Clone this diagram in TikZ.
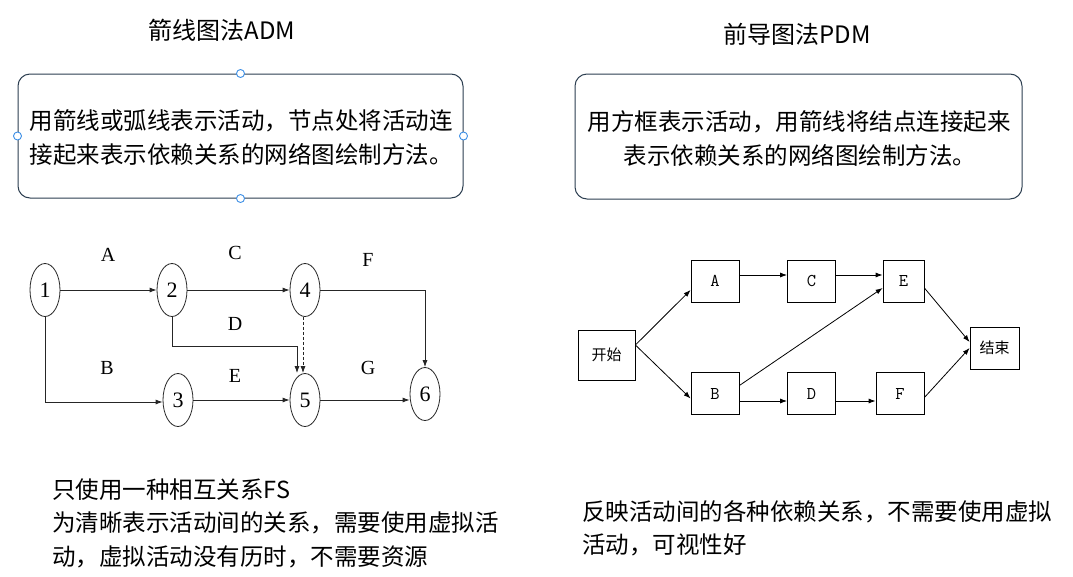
\documentclass[tikz,border=0pt]{standalone}
\usepackage{fontspec}
\newfontfamily\cjk{Noto Sans CJK SC}
\newfontfamily\tms{Liberation Serif}
\usetikzlibrary{shapes.geometric,arrows.meta,calc}
\definecolor{boxline}{HTML}{2C3E50}
\definecolor{handleblue}{HTML}{3D8FE6}
\begin{document}
\begin{tikzpicture}[x=1pt,y=-1pt,
  title/.style={font=\cjk\fontsize{24}{28}\selectfont, inner sep=0pt},
  body/.style={font=\cjk\fontsize{23.5}{28}\selectfont, inner sep=0pt},
  descbox/.style={draw=boxline, line width=1pt, rounded corners=12pt, inner sep=0pt},
  handle/.style={circle, draw=handleblue, fill=white, minimum size=8pt, inner sep=0pt, line width=0.9pt},
  ev/.style={ellipse, draw=black!85, line width=0.8pt, minimum width=30pt, minimum height=53pt, inner sep=0pt, font=\tms\fontsize{22}{26}\selectfont},
  lab/.style={font=\tms\fontsize{20}{24}\selectfont, inner sep=0pt},
  act/.style={rectangle, draw=black, line width=0.8pt, minimum width=48pt, minimum height=42pt, inner sep=0pt, font=\ttfamily\fontsize{18}{20}\selectfont},
  adm/.style={draw=black!85, line width=0.8pt, -{Latex[length=7pt,width=5pt]}},
  pdm/.style={draw=black, line width=0.8pt, -{Latex[length=7pt,width=5pt]}}
]
\useasboundingbox (0,0) rectangle (1073,576);
\fill[white] (0,0) rectangle (1073,576);

% titles
\node[title] (t1) at (222,30) {箭线图法ADM};
\node[title] (t2) at (797,34) {前导图法PDM};

% description boxes
\node[descbox, minimum width=445pt, minimum height=124pt] (boxL) at (240.5,136) {};
\node[descbox, minimum width=447pt, minimum height=125pt] (boxR) at (798.5,136.5) {};
\node[handle] (hN) at (boxL.north) {};
\node[handle] (hS) at (boxL.south) {};
\node[handle] (hW) at (boxL.west) {};
\node[handle] (hE) at (boxL.east) {};

\node[body] (l1) at (241,121) {用箭线或弧线表示活动，节点处将活动连};
\node[body] (l2) at (241,155) {接起来表示依赖关系的网络图绘制方法。};
\node[body] (r1) at (799,122) {用方框表示活动，用箭线将结点连接起来};
\node[body] (r2) at (800,155) {表示依赖关系的网络图绘制方法。};

% ADM network
\node[ev] (n1) at (45,290) {1};
\node[ev] (n2) at (172,290) {2};
\node[ev] (n4) at (305,290) {4};
\node[ev] (n3) at (178,400) {3};
\node[ev] (n5) at (305,400) {5};
\node[ev] (n6) at (425,394) {6};

\node[lab] (la) at (108,255) {A};
\node[lab] (lc) at (235,253) {C};
\node[lab] (lf) at (368,260) {F};
\node[lab] (ld) at (235,324) {D};
\node[lab] (lb) at (107,368) {B};
\node[lab] (le) at (235,376) {E};
\node[lab] (lg) at (368,368) {G};

\coordinate (dcorner) at (297,346);
\draw[adm] (n1.east) -- (n2.west);
\draw[adm] (n2.east) -- (n4.west);
\draw[adm] (n4.east) -| (n6.north);
\draw[adm] (n1.south) |- ($(n3.west)+(0,2)$);
\draw[adm] (n2.south) |- (dcorner) -- (dcorner |- n5.north);
\draw[adm, dashed, dash pattern=on 3pt off 2pt] ($(n4.south)+(-2,0)$) -- ($(n5.north)+(-2,0)$);
\draw[adm] (n3.east) -- (n5.west);
\draw[adm] (n5.east) -- (n5.east -| n6.west);

% PDM network
\node[act, minimum width=57pt, minimum height=50pt, font=\cjk\fontsize{15}{18}\selectfont] (st) at (606.5,355) {开始};
\node[act] (pa) at (715,281) {A};
\node[act] (pc) at (811.5,281) {C};
\node[act, minimum width=41pt] (pe) at (903.5,281) {E};
\node[act] (pb) at (715,393.5) {B};
\node[act] (pd) at (811.5,393.5) {D};
\node[act] (pf) at (900,393.5) {F};
\node[act, minimum width=49pt, font=\cjk\fontsize{15}{18}\selectfont] (en) at (994.5,348) {结束};

\draw[pdm] ($(st.east)+(0,-10)$) -- ($(pa.west)+(0,9)$);
\draw[pdm] ($(st.east)+(0,-10)$) -- ($(pb.west)+(0,5)$);
\draw[pdm] ($(pa.east)+(0,-6)$) -- ($(pc.west)+(0,-6)$);
\draw[pdm] ($(pc.east)+(0,-6)$) -- ($(pe.west)+(0,-6)$);
\draw[pdm] ($(pb.east)+(0,-8)$) -- ($(pe.west)+(0,7)$);
\draw[pdm] ($(pb.east)+(0,7.5)$) -- ($(pd.west)+(0,7.5)$);
\draw[pdm] ($(pd.east)+(0,7.5)$) -- ($(pf.west)+(0,7.5)$);
\draw[pdm] ($(pe.east)+(0,7)$) -- ($(en.west)+(0,-6)$);
\draw[pdm] ($(pf.east)+(0,4)$) -- ($(en.west)+(0,0)$);

% bottom notes
\node[body, anchor=west] (b1) at (52,490) {只使用一种相互关系FS};
\node[body, anchor=west] (b2) at (52,523) {为清晰表示活动间的关系，需要使用虚拟活};
\node[body, anchor=west] (b3) at (52,557) {动，虚拟活动没有历时，不需要资源};
\node[body, anchor=west] (c1) at (582,512) {反映活动间的各种依赖关系，不需要使用虚拟};
\node[body, anchor=west] (c2) at (582,545) {活动，可视性好};
\end{tikzpicture}
\end{document}
